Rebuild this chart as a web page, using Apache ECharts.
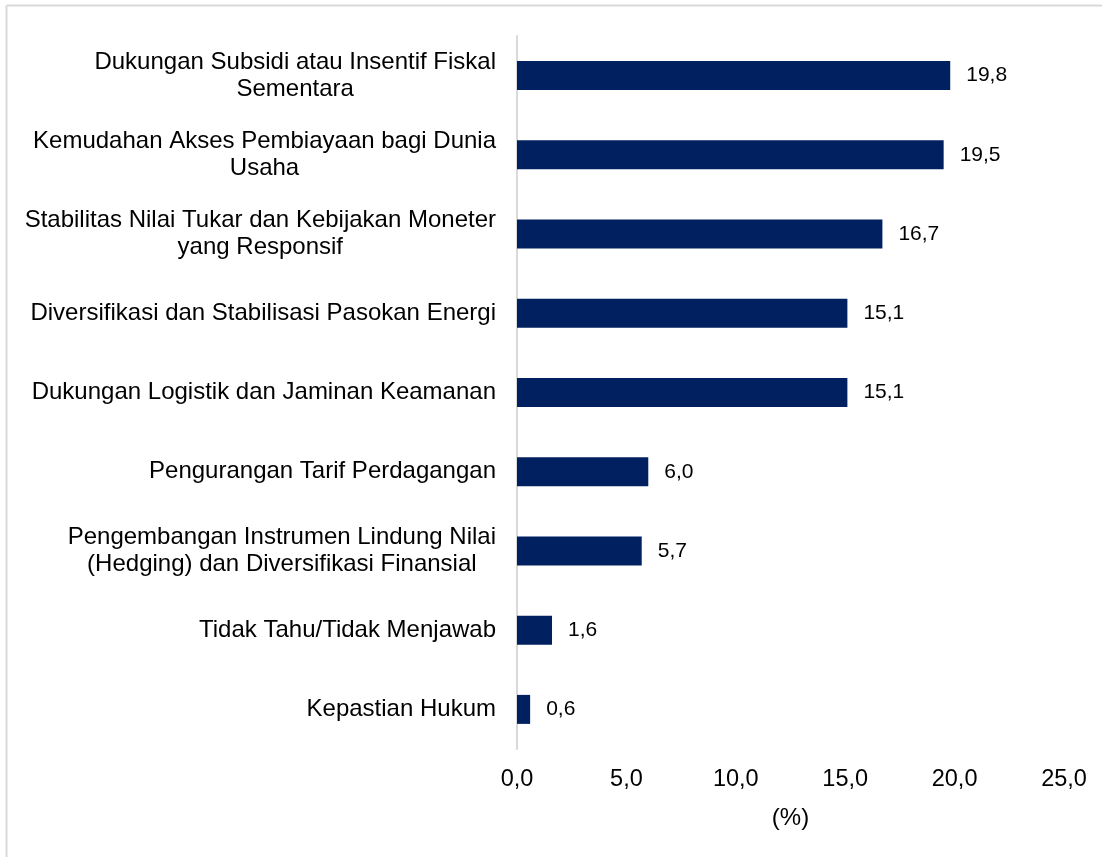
<!DOCTYPE html>
<html>
<head>
<meta charset="utf-8">
<script src="https://cdn.jsdelivr.net/npm/echarts@6/dist/echarts.min.js"></script>
<style>
html,body{margin:0;padding:0;background:#fff;}
#chart{width:1102px;height:857px;}
</style>
</head>
<body>
<div id="chart"></div>
<script>
const categories = [
  "Dukungan Subsidi atau Insentif Fiskal\nSementara",
  "Kemudahan Akses Pembiayaan bagi Dunia\nUsaha",
  "Stabilitas Nilai Tukar dan Kebijakan Moneter\nyang Responsif",
  "Diversifikasi dan Stabilisasi Pasokan Energi",
  "Dukungan Logistik dan Jaminan Keamanan",
  "Pengurangan Tarif Perdagangan",
  "Pengembangan Instrumen Lindung Nilai\n(Hedging) dan Diversifikasi Finansial",
  "Tidak Tahu/Tidak Menjawab",
  "Kepastian Hukum"
];
const values = [19.8, 19.5, 16.7, 15.1, 15.1, 6.0, 5.7, 1.6, 0.6];
const xTicks = [0, 5, 10, 15, 20, 25];
const axisName = "(%)";

const fmt = v => Number(v).toFixed(1).replace('.', ',');
const chart = echarts.init(document.getElementById('chart'), null, {renderer: 'canvas'});
chart.setOption({
  animation: false,
  backgroundColor: '#ffffff',
  textStyle: {fontFamily: 'Liberation Sans, Arial, sans-serif'},
  graphic: [
    {type: 'line', shape: {x1: 6.5, y1: 5.5, x2: 1102, y2: 5.5}, style: {stroke: '#d9d9d9', lineWidth: 2}},
    {type: 'line', shape: {x1: 6.5, y1: 5.5, x2: 6.5, y2: 857}, style: {stroke: '#d9d9d9', lineWidth: 2}}
  ],
  grid: {left: 517, right: 38, top: 36, bottom: 108, containLabel: false},
  xAxis: {
    type: 'value', min: xTicks[0], max: xTicks[xTicks.length - 1], interval: 5,
    axisLine: {show: false}, axisTick: {show: false}, splitLine: {show: false},
    axisLabel: {formatter: fmt, fontSize: 23.5, color: '#000', margin: 19},
    name: axisName, nameLocation: 'middle', nameGap: 57,
    nameTextStyle: {fontSize: 24, color: '#000'}
  },
  yAxis: {
    type: 'category', data: categories, inverse: true,
    axisLine: {show: true, lineStyle: {color: '#d9d9d9', width: 2}},
    axisTick: {show: false},
    axisLabel: {
      interval: 0, color: '#000', margin: 21, align: 'right', fontSize: 24, lineHeight: 27,
      formatter: v => v.split('\n').map(l => '{c|' + l + '}').join('\n'),
      rich: {c: {align: 'center', fontSize: 24, lineHeight: 27, color: '#000'}}
    }
  },
  series: [{
    type: 'bar', data: values, barWidth: 29,
    itemStyle: {color: '#002060'},
    label: {show: true, position: 'right', distance: 16, formatter: p => fmt(p.value), fontSize: 21, color: '#000'}
  }]
});
</script>
</body>
</html>
